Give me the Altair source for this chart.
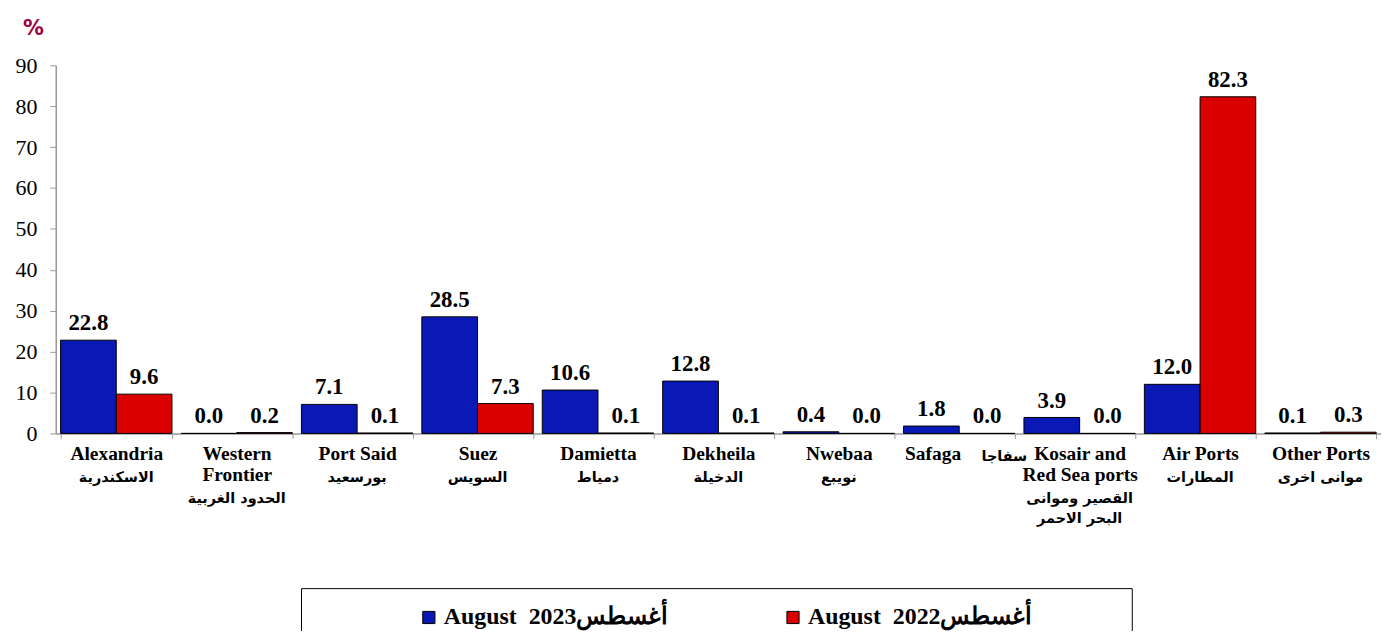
import altair as alt
import pandas as pd

NB = "\u00a0"
ZW = "\u200b"
english_labels = [
    "Alexandria",
    "Western|Frontier",
    "Port Said",
    "Suez",
    "Damietta",
    "Dekheila",
    "Nwebaa",
    "Safaga" + NB * 11 + ZW,
    "Kosair and|Red Sea ports",
    "Air Ports",
    "Other Ports",
]
arabic_labels = [
    "الاسكندرية",
    "الحدود الغربية",
    "بورسعيد",
    "السويس",
    "دمياط",
    "الدخيلة",
    "نويبع",
    ZW + NB * 18 + "سفاجا",
    "القصير وموانى|البحر الاحمر",
    "المطارات",
    "موانى اخرى",
]
# Arabic shares the first English line for Safaga
arabic_skip = [1, 2, 1, 1, 1, 1, 1, 0, 2, 1, 1]
values_2023 = [22.8, 0.0, 7.1, 28.5, 10.6, 12.8, 0.4, 1.8, 3.9, 12.0, 0.1]
values_2022 = [9.6, 0.2, 0.1, 7.3, 0.1, 0.1, 0.0, 0.0, 0.0, 82.3, 0.3]
series_names = ["August" + NB + " 2023أغسطس", "August" + NB + " 2022أغسطس"]
y_ticks = [0, 10, 20, 30, 40, 50, 60, 70, 80, 90]

categories = [
    e + "##" + "".join([ZW + "|"] * s) + a
    for e, a, s in zip(english_labels, arabic_labels, arabic_skip)
]

rows = []
for c, v in zip(categories, values_2023):
    rows.append({"cat": c, "series": series_names[0], "value": v})
for c, v in zip(categories, values_2022):
    rows.append({"cat": c, "series": series_names[1], "value": v})
df = pd.DataFrame(rows)

BLUE = "#0A19B6"
RED = "#DA0000"
SERIF = "Liberation Serif, Times New Roman, serif"

x_scale = alt.Scale(paddingInner=0.075, paddingOuter=0.04)
x_eng = alt.X(
    "cat:N",
    sort=categories,
    scale=x_scale,
    axis=alt.Axis(
        orient="bottom",
        title=None,
        labelExpr="split(split(datum.label, '##')[0], '|')",
        labelAngle=0,
        labelFont=SERIF,
        labelFontWeight="bold",
        labelFontSize=19.5,
        labelLineHeight=21,
        labelColor="black",
        labelPadding=6,
        labelLimit=300,
        tickBand="extent",
        tickSize=5,
        tickColor="#999999",
        domainColor="#999999",
        domainWidth=1.5,
        grid=False,
    ),
)
x_arab = alt.X(
    "cat:N",
    sort=categories,
    axis=alt.Axis(
        orient="bottom",
        title=None,
        labelExpr="split(split(datum.label, '##')[1], '|')",
        labelAngle=0,
        labelFont="DejaVu Sans",
        labelFontWeight="bold",
        labelFontSize=14.5,
        labelLineHeight=21,
        labelColor="black",
        labelPadding=16,
        labelLimit=300,
        ticks=False,
        tickSize=5,
        domain=False,
        grid=False,
    ),
)
xo_enc = alt.XOffset("series:N", sort=series_names)
y_enc = alt.Y(
    "value:Q",
    scale=alt.Scale(domain=[0, 90], nice=False),
    axis=alt.Axis(
        values=y_ticks,
        title="%",
        titleAngle=0,
        titleX=-23,
        titleY=-37,
        titleAlign="center",
        titleBaseline="middle",
        titleFont="DejaVu Sans",
        titleFontSize=21,
        titleFontWeight="bold",
        titleColor="#A0003C",
        labelFont=SERIF,
        labelFontSize=22,
        labelColor="black",
        labelPadding=13,
        tickSize=6,
        tickColor="#999999",
        domainColor="#999999",
        domainWidth=1.5,
        grid=False,
    ),
)

bars = alt.Chart(df).mark_bar(stroke="black", strokeWidth=1).encode(
    x=x_eng,
    xOffset=xo_enc,
    y=y_enc,
    color=alt.Color(
        "series:N",
        sort=series_names,
        scale=alt.Scale(domain=series_names, range=[BLUE, RED]),
        legend=alt.Legend(
            title=None,
            orient="none",
            legendX=363,
            legendY=543,
            direction="horizontal",
            symbolType="square",
            symbolSize=150,
            symbolStrokeColor="black",
            symbolStrokeWidth=1,
            labelFont=SERIF,
            labelFontWeight="bold",
            labelFontSize=24,
            labelColor="black",
            labelLimit=400,
            labelOffset=3,
            columnPadding=113,
        ),
    ),
)

labels = alt.Chart(df).mark_text(
    dy=-10, font=SERIF, fontWeight="bold", fontSize=23, color="black", baseline="alphabetic"
).encode(
    x=x_arab,
    xOffset=xo_enc,
    y=alt.Y("value:Q"),
    text=alt.Text("value:Q", format=".1f"),
)

legend_box = alt.Chart(alt.Data(values=[{}])).mark_rect(
    fill="transparent", stroke="black", strokeWidth=1
).encode(
    x=alt.value(247), x2=alt.value(1082), y=alt.value(526), y2=alt.value(640)
)

chart = alt.layer(bars, labels, legend_box).resolve_axis(x="independent").properties(
    width=1332,
    height=370,
    padding={"left": 48, "top": 56, "right": 0, "bottom": 197},
    autosize=alt.AutoSizeParams(type="none"),
).configure_view(stroke=None)

chart.save("out.html", embed_options={"renderer": "svg", "actions": False})
